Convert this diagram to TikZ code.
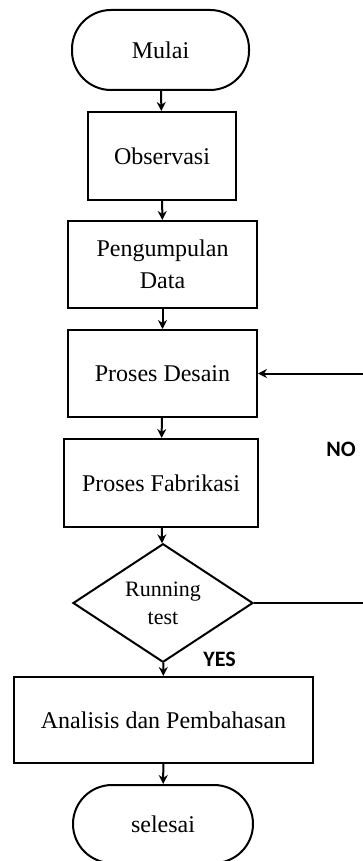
\documentclass[tikz,border=0pt]{standalone}
\usepackage{fontspec}
\setmainfont{Liberation Serif}
\newfontfamily\lblfont{Carlito}
\usetikzlibrary{shapes.geometric,arrows.meta}

\tikzset{
  base/.style={draw, line width=1pt, align=center, inner sep=0pt,
    font=\fontsize{12}{16}\selectfont},
  terminal/.style={base, rectangle, rounded corners=19.5pt},
  process/.style={base, rectangle},
  decision/.style={base, diamond, font=\fontsize{11}{14}\selectfont},
  arr/.style={line width=1pt, -{Stealth[length=4.5pt,width=4.5pt]}},
  answer/.style={font=\lblfont\bfseries\fontsize{11}{13}\selectfont}
}

\begin{document}
\begin{tikzpicture}[x=0.5pt, y=-0.5pt]

% page frame
\useasboundingbox (0,0) rectangle (363,861);

% Define steps
\node[terminal, minimum width=88.5pt, minimum height=40pt] (mulai) at (160.5,50) {Mulai};
\node[process, minimum width=74pt, minimum height=44pt] (observasi) at (162,156) {Observasi};
\node[process, minimum width=94.5pt, minimum height=43.5pt] (data) at (162.5,264.5) {Pengumpulan\\Data};
\node[process, minimum width=94.5pt, minimum height=43.5pt] (desain) at (162.5,373.5) {Proses Desain};
\node[process, minimum width=97pt, minimum height=44pt] (fabrikasi) at (161,483) {Proses Fabrikasi};
\node[decision, minimum width=90pt, minimum height=55pt] (test) at (163,603) {Running\\test};
\node[process, minimum width=149.5pt, minimum height=43pt] (analisis) at (163.5,720) {Analisis dan Pembahasan};
\node[terminal, minimum width=90pt, minimum height=39pt] (selesai) at (163,824) {selesai};

% Main flow
\draw[arr] (mulai) -- (observasi);
\draw[arr] (observasi) -- (data);
\draw[arr] (data) -- (desain);
\draw[arr] (desain) -- (fabrikasi);
\draw[arr] (fabrikasi) -- (test);
\draw[arr] (test) -- (analisis);
\draw[arr] (analisis) -- (selesai);

% Loop back (NO), runs off the right edge
\coordinate (loopx) at (366,0);
\draw[arr] (test.east) -- (test.east -| loopx) |- (desain.east);

% Answers
\node[answer] (no) at (341,449) {NO};
\node[answer] (yes) at (219.5,659) {YES};

\end{tikzpicture}
\end{document}
